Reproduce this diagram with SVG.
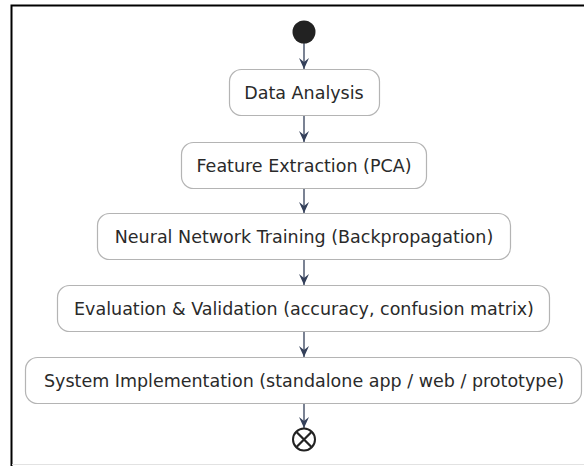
<svg xmlns="http://www.w3.org/2000/svg" width="584" height="466" viewBox="0 0 584 466">
  <style>
    .box { fill: #ffffff; stroke: #b4b4b4; stroke-width: 1.2; }
    .lbl { font-family: "DejaVu Sans", "Liberation Sans", sans-serif; font-size: 17.5px; fill: #2a2a2a; text-anchor: middle; }
    .edge { stroke: #34405a; stroke-width: 1.3; fill: none; }
    .head { fill: #34405a; }
  </style>
  <defs>
    <!-- arrowhead drawn along +x so orient="auto" points it down the line -->
    <marker id="arrow" markerWidth="12" markerHeight="11" refX="11" refY="5.5" orient="auto" markerUnits="userSpaceOnUse" viewBox="0 0 12 11">
      <polygon points="11,5.5 0,0.5 4,5.5 0,10.5" class="head"/>
    </marker>
  </defs>

  <!-- page frame -->
  <rect x="0" y="0" width="584" height="466" fill="#ffffff"/>
  <path d="M11.5,466 V5.5 H584" fill="none" stroke="#000000" stroke-width="2"/>
  <line x1="12" y1="464.5" x2="584" y2="464.5" stroke="#e2e2e2" stroke-width="1"/>

  <!-- connectors -->
  <g id="connectors">
    <line class="edge" x1="304" y1="43" x2="304" y2="69" marker-end="url(#arrow)"/>
    <line class="edge" x1="304" y1="116" x2="304" y2="142" marker-end="url(#arrow)"/>
    <line class="edge" x1="304" y1="188" x2="304" y2="213" marker-end="url(#arrow)"/>
    <line class="edge" x1="304" y1="260" x2="304" y2="285" marker-end="url(#arrow)"/>
    <line class="edge" x1="304" y1="332" x2="304" y2="357" marker-end="url(#arrow)"/>
    <line class="edge" x1="304" y1="403" x2="304" y2="428" marker-end="url(#arrow)"/>
  </g>

  <g id="start">
    <circle cx="304" cy="32" r="11.5" fill="#222222"/>
  </g>

  <g id="data-analysis">
    <rect class="box" x="229.5" y="69.5" width="150" height="46" rx="12"/>
    <text class="lbl" x="304" y="98.5">Data Analysis</text>
  </g>

  <g id="feature-extraction">
    <rect class="box" x="181.5" y="142.5" width="245" height="46" rx="12"/>
    <text class="lbl" x="304" y="171.5">Feature Extraction (PCA)</text>
  </g>

  <g id="nn-training">
    <rect class="box" x="97.5" y="213.5" width="413" height="46" rx="12"/>
    <text class="lbl" x="304" y="242.5">Neural Network Training (Backpropagation)</text>
  </g>

  <g id="evaluation">
    <rect class="box" x="57.5" y="285.5" width="492" height="46" rx="12"/>
    <text class="lbl" x="304" y="314.5">Evaluation &amp; Validation (accuracy, confusion matrix)</text>
  </g>

  <g id="implementation">
    <rect class="box" x="25.5" y="357.5" width="556" height="46" rx="12"/>
    <text class="lbl" x="304" y="386.5">System Implementation (standalone app / web / prototype)</text>
  </g>

  <g id="end">
    <circle cx="304" cy="439.5" r="11" fill="#ffffff" stroke="#222222" stroke-width="2"/>
    <path d="M296.5,432 L311.5,447 M311.5,432 L296.5,447" stroke="#222222" stroke-width="2.2"/>
  </g>
</svg>
